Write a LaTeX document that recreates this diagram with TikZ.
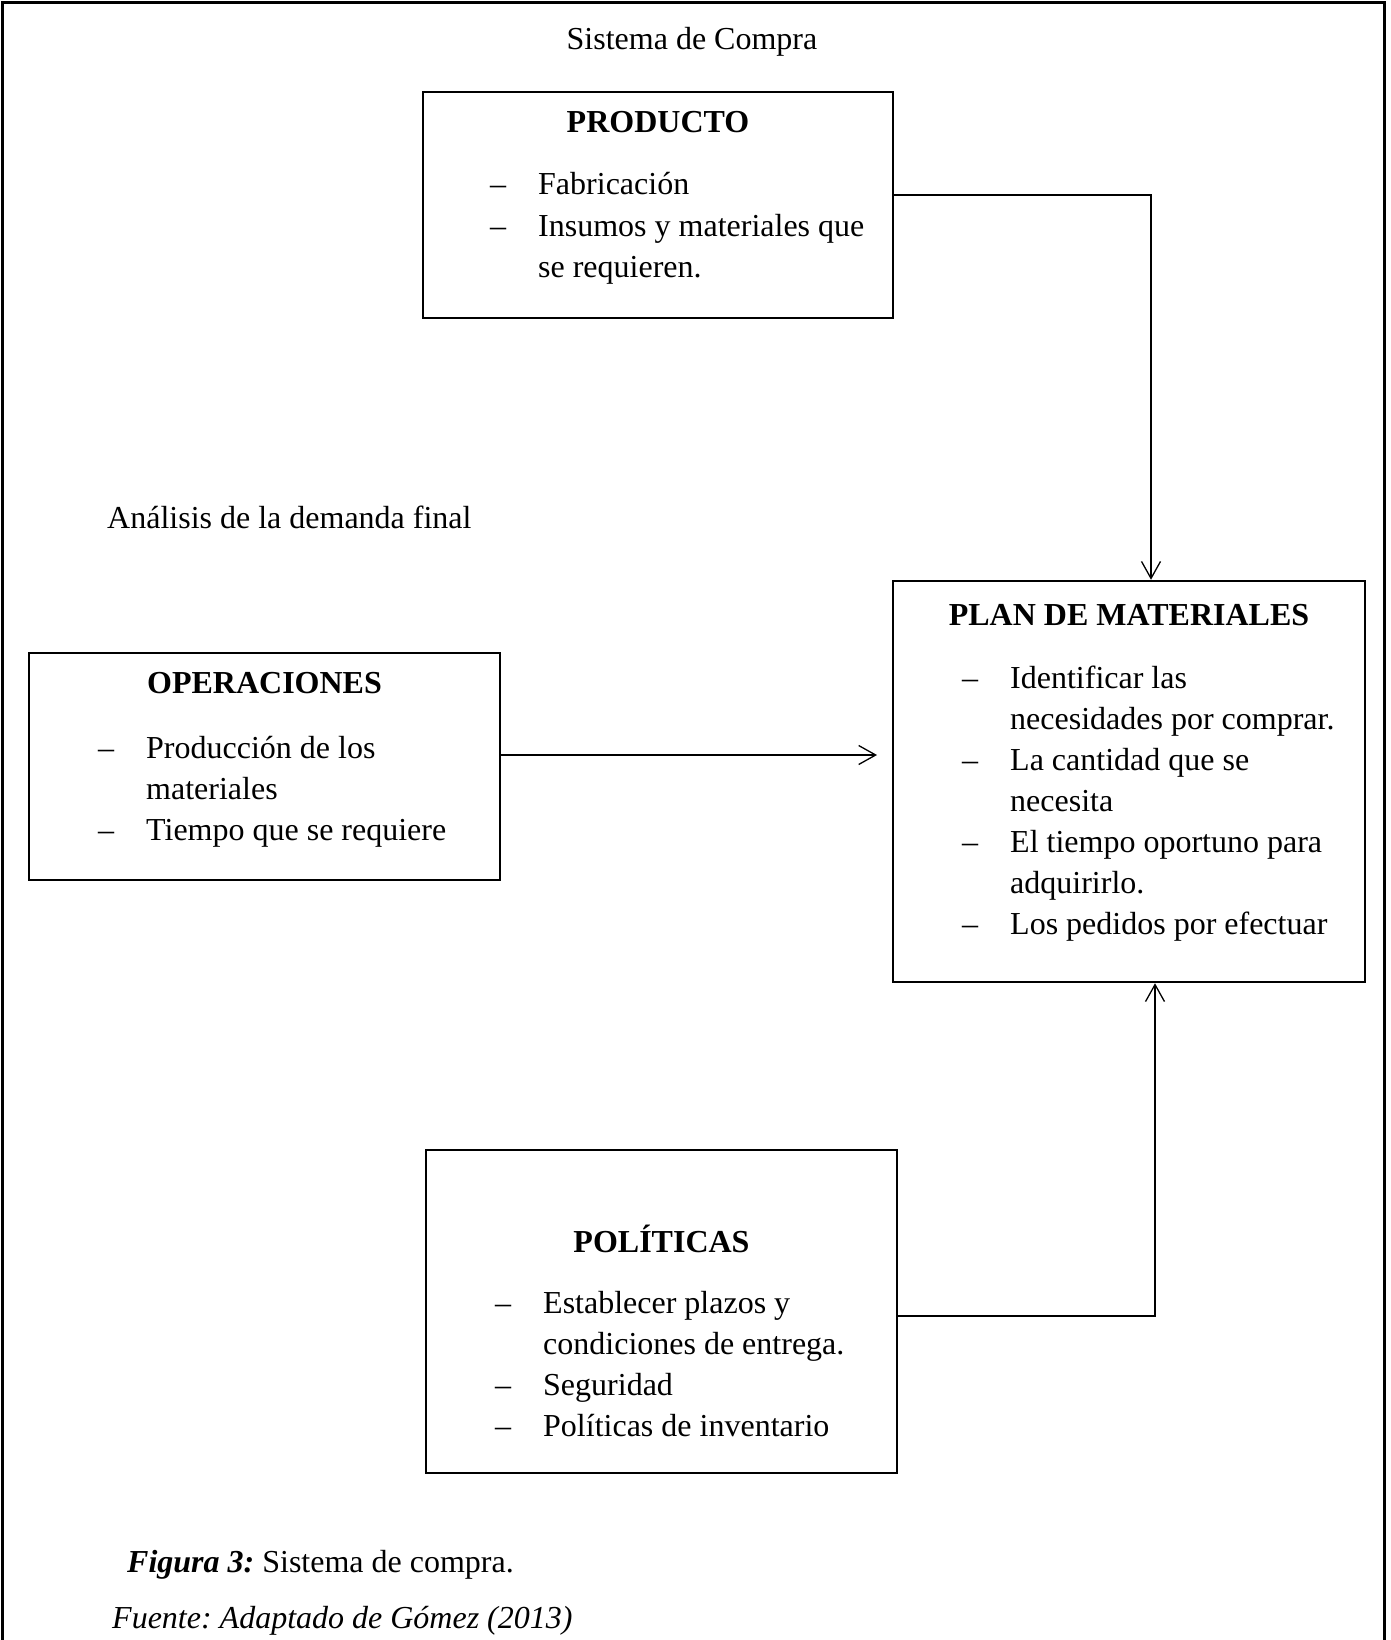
\documentclass[tikz,border=0pt]{standalone}
\usepackage{fontspec}
\setmainfont{Liberation Serif}
\usetikzlibrary{arrows.meta}
\frenchspacing

% dash-led list: a 48pt column for the dash, then the text
\newcommand\itemdash{\makebox[48pt][l]{–}}
\newcommand\dashlist[1]{\begin{tabular}[t]{@{}l@{}l@{}}#1\end{tabular}}

\begin{document}
\begin{tikzpicture}[x=1pt,y=-1pt,
  every node/.style={font=\fontsize{32}{41}\selectfont, inner sep=0pt},
  box/.style={draw, line width=2.5pt, rectangle, inner sep=0pt},
  boxtitle/.style={anchor=base, font=\fontsize{32}{41}\selectfont\bfseries},
  items/.style={anchor=base west},
  link/.style={line width=1.3pt, -{Straight Barb[length=17pt,width=19pt,line width=1.3pt]}},
  frame/.style={line width=3pt}]

\useasboundingbox (0,0) rectangle (1391,1640);

% outer frame, open at the bottom
\draw[frame] (2,1640) -- (2,3) -- (1384,3) -- (1384,1640);

\node[anchor=base] (title) at (692,50) {Sistema de Compra};

% PRODUCTO
\node[box, minimum width=470pt, minimum height=226pt] (prod) at (658,205) {};
\node[boxtitle] (prodtitle) at (658,133) {PRODUCTO};
\node[items] (prodlist) at (490,195) {\dashlist{
  \itemdash & Fabricación\\
  \itemdash & Insumos y materiales que\\
            & se requieren.}};

% PLAN DE MATERIALES
\node[box, minimum width=472pt, minimum height=401pt] (plan) at (1129,781.5) {};
\node[boxtitle] (plantitle) at (1129,625) {PLAN DE MATERIALES};
\node[items] (planlist) at (962,688) {\dashlist{
  \itemdash & Identificar las\\
            & necesidades por comprar.\\
  \itemdash & La cantidad que se\\
            & necesita\\
  \itemdash & El tiempo oportuno para\\
            & adquirirlo.\\
  \itemdash & Los pedidos por efectuar}};

% OPERACIONES
\node[box, minimum width=471pt, minimum height=227pt] (ops) at (264.5,766.5) {};
\node[boxtitle] (opstitle) at (264.5,693) {OPERACIONES};
\node[items] (opslist) at (98,758) {\dashlist{
  \itemdash & Producción de los\\
            & materiales\\
  \itemdash & Tiempo que se requiere}};

% POLÍTICAS
\node[box, minimum width=471pt, minimum height=323pt] (pol) at (661.5,1311.5) {};
\node[boxtitle] (poltitle) at (661.5,1252) {POLÍTICAS};
\node[items] (pollist) at (495,1313) {\dashlist{
  \itemdash & Establecer plazos y\\
            & condiciones de entrega.\\
  \itemdash & Seguridad\\
  \itemdash & Políticas de inventario}};

\node[anchor=base west] (demanda) at (107,528) {Análisis de la demanda final};

% connectors into the materials plan
\coordinate (k1) at (1151,195);
\coordinate (k2) at (877,755);
\coordinate (k3) at (1155,1316);
\draw[link] (prod.east |- k1) -| (k1 |- plan.north);
\draw[link] (ops.east |- k2) -- (k2);
\draw[link] (pol.east |- k3) -| (k3 |- plan.south);

% caption and source
\node[anchor=base west] (caption) at (127,1572) {\textbf{\textit{Figura 3:}} Sistema de compra.};
\node[anchor=base west] (source) at (112,1628) {\textit{Fuente: Adaptado de Gómez (2013)}};
\end{tikzpicture}
\end{document}
